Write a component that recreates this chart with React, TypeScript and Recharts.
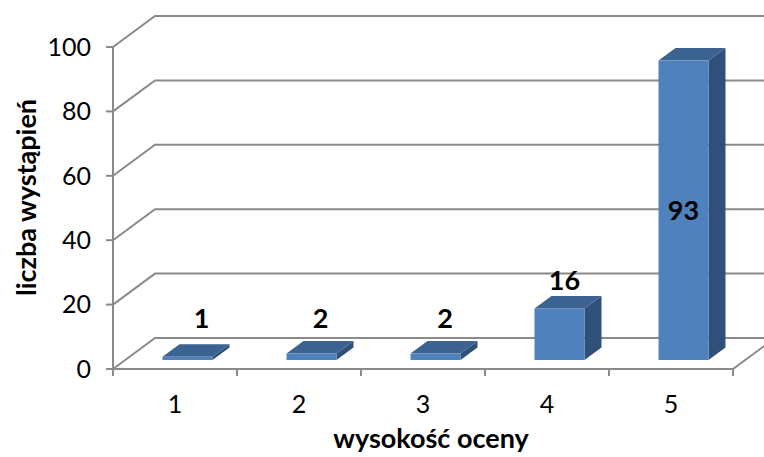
import { BarChart, Bar, XAxis, YAxis, CartesianGrid, LabelList } from 'recharts'

const categories = ['1', '2', '3', '4', '5']
const counts = [1, 2, 2, 16, 93]
const yTicks = [0, 20, 40, 60, 80, 100]

const rows = categories.map((name, i) => ({ name, count: counts[i] }))

const FONT = 'Lato, "Open Sans", sans-serif'
const GRID = '#8a8a8a'
const DEPTH_X = 42
const DEPTH_Y = 31

// where a bar sits inside the floor depth, and how deep it is
const BAR_SHIFT_X = 12.5
const BAR_SHIFT_Y = 9
const BAR_DEPTH_X = 17
const BAR_DEPTH_Y = 12.5

// hand placed data labels, as in the original (offset from the bar front)
const labelOffsets = [
  { dx: 14, y: 317 },
  { dx: 9, y: 317 },
  { dx: 9.5, y: 317 },
  { dx: 5, y: 279 },
  { dx: 0, y: 209 },
]

function Box3D(props: any) {
  const { width, height } = props
  const x = props.x + BAR_SHIFT_X
  const y = props.y - BAR_SHIFT_Y
  const dx = BAR_DEPTH_X
  const dy = BAR_DEPTH_Y
  return (
    <g>
      <path d={`M${x + width},${y} l${dx},${-dy} v${height} l${-dx},${dy} Z`} fill="#2f5078" />
      <path d={`M${x},${y} l${dx},${-dy} h${width} l${-dx},${dy} Z`} fill="#3b6291" />
      <rect x={x} y={y} width={width} height={height} fill="#4f81bd" />
    </g>
  )
}

function BarLabel(props: any) {
  const { x, width, index, value } = props
  const pos = labelOffsets[index]
  return (
    <text
      x={x + BAR_SHIFT_X + width / 2 + pos.dx}
      y={pos.y}
      textAnchor="middle"
      dominantBaseline="central"
      fontFamily={FONT}
      fontWeight={700}
      fontSize={27}
      fill="#000"
    >
      {value}
    </text>
  )
}

// gridline runs up the side wall, then along the back wall
function GridLine(props: any) {
  const { x1, x2, y1, index } = props
  const isFloor = y1 > 360
  return (
    <g key={`grid-${index}`}>
      <path
        d={`M${x1},${y1} l${DEPTH_X},${-DEPTH_Y} H${x2 + DEPTH_X}`}
        fill="none"
        stroke={GRID}
        strokeWidth={2}
      />
      {isFloor && (
        <path d={`M${x1},${y1} H${x2} l${DEPTH_X},${-DEPTH_Y}`} fill="none" stroke={GRID} strokeWidth={2} />
      )}
    </g>
  )
}

function CategoryTick(props: any) {
  const { x, payload, index } = props
  const band = 124
  const top = 369
  return (
    <g>
      <line x1={x - band / 2} x2={x - band / 2} y1={top} y2={top + 7} stroke={GRID} strokeWidth={2} />
      {index === categories.length - 1 && (
        <line x1={x + band / 2} x2={x + band / 2} y1={top} y2={top + 7} stroke={GRID} strokeWidth={2} />
      )}
      <text x={x} y={403} textAnchor="middle" dominantBaseline="central" fontFamily={FONT} fontSize={25} fill="#000">
        {payload.value}
      </text>
    </g>
  )
}

export default function App() {
  return (
    <div style={{ position: 'absolute', left: 0, top: 0, width: 764, height: 457, background: '#fff', overflow: 'hidden' }}>
      <BarChart
        width={764}
        height={457}
        data={rows}
        margin={{ top: 47, right: 31, bottom: 0, left: 0 }}
        barSize={50}
      >
        <CartesianGrid vertical={false} horizontal={GridLine} />
        <XAxis
          dataKey="name"
          height={88}
          tickLine={false}
          tick={CategoryTick}
          axisLine={{ stroke: GRID, strokeWidth: 2 }}
          label={{
            value: 'wysokość oceny',
            position: 'insideBottom',
            offset: 9,
            dx: 8,
            style: { fontFamily: FONT, fontWeight: 700, fontSize: 27, fill: '#000' },
          }}
        />
        <YAxis
          width={113}
          domain={[0, 100]}
          ticks={yTicks}
          tickSize={7}
          tickMargin={15}
          tick={{ fontFamily: FONT, fontSize: 25, fill: '#000' }}
          tickLine={{ stroke: GRID, strokeWidth: 2 }}
          axisLine={{ stroke: GRID, strokeWidth: 2 }}
          label={{
            value: 'liczba wystąpień',
            angle: -90,
            position: 'insideLeft',
            offset: 26,
            dy: 88,
            style: { fontFamily: FONT, fontWeight: 700, fontSize: 27, fill: '#000' },
          }}
        />
        <Bar dataKey="count" shape={Box3D} isAnimationActive={false}>
          <LabelList dataKey="count" content={BarLabel} />
        </Bar>
      </BarChart>
    </div>
  )
}
